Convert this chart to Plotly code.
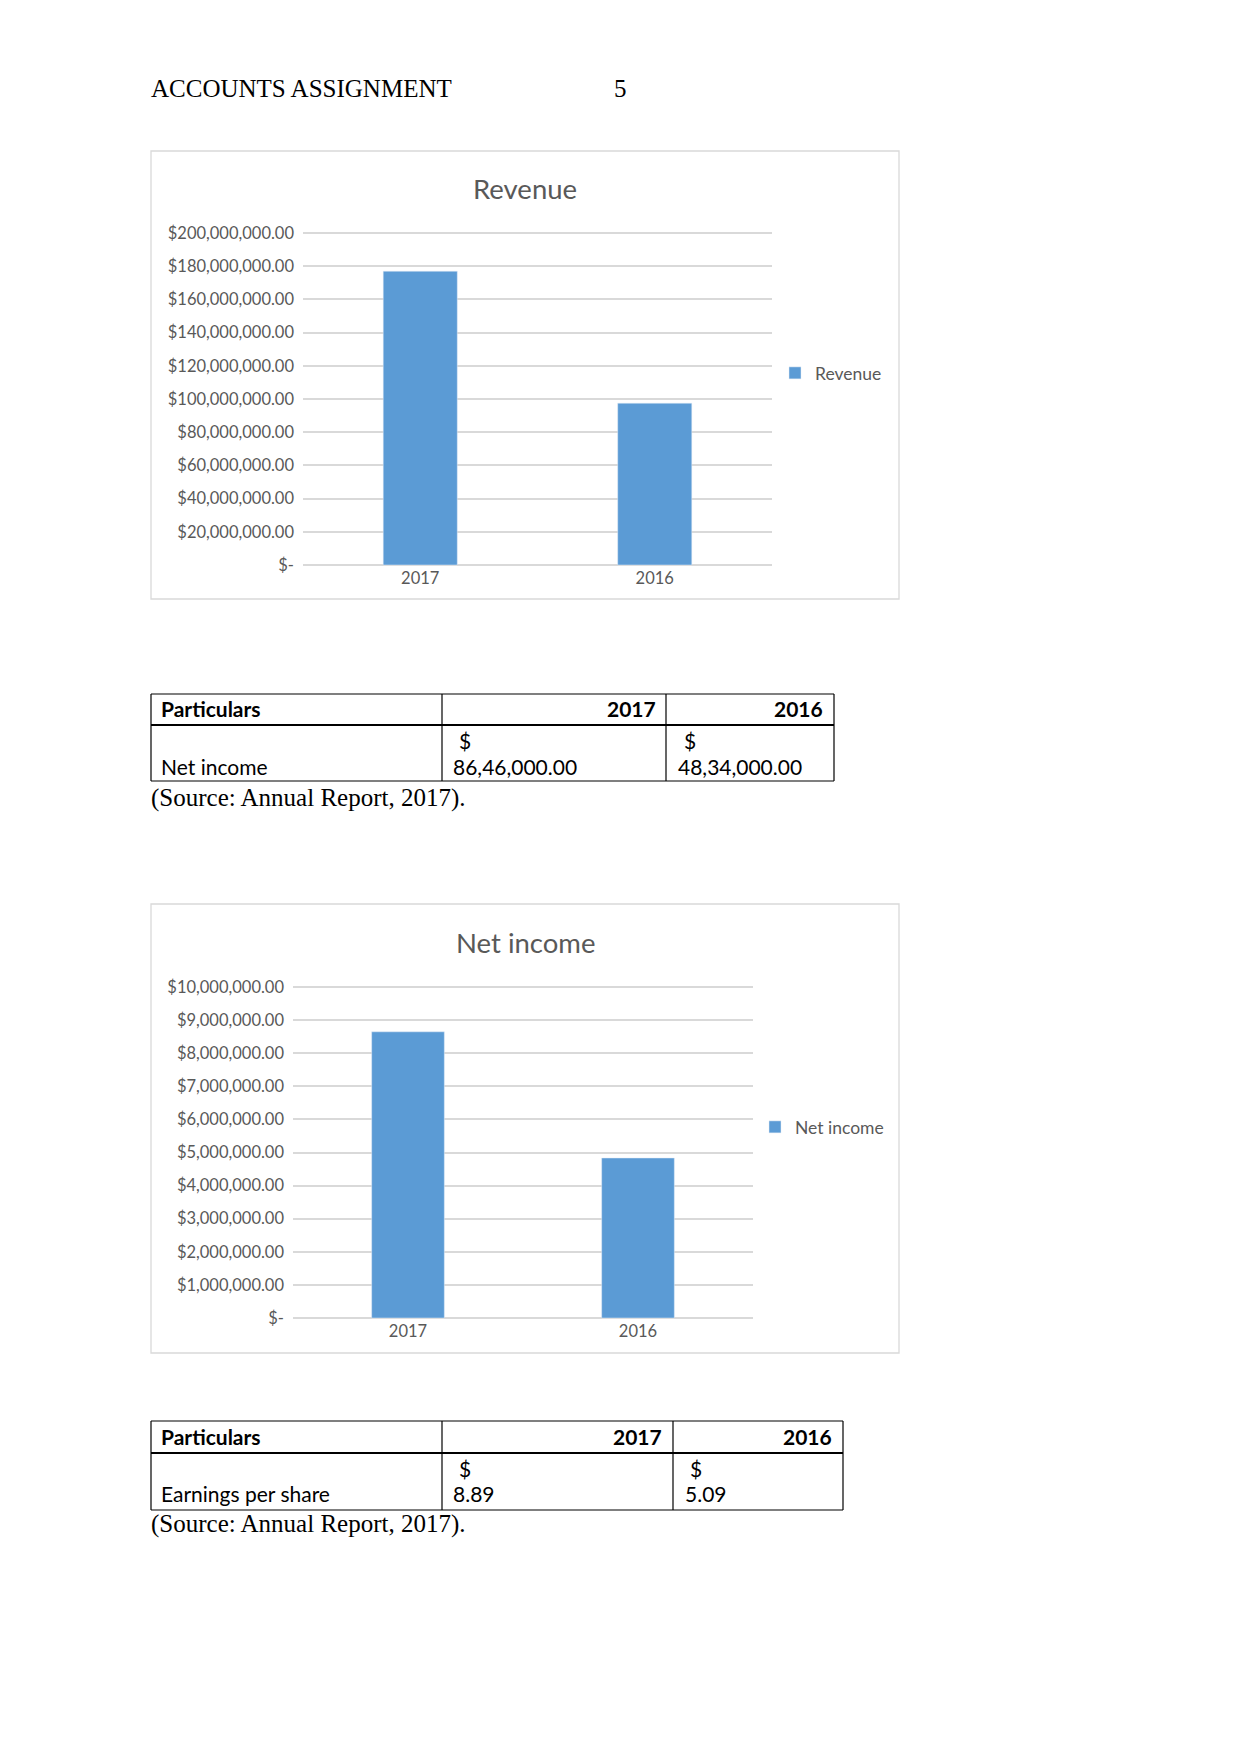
import plotly.graph_objects as go

# ---------------- data ----------------
years = ["2017", "2016"]
revenue = [177_000_000, 97_500_000]
net_income = [8_646_000, 4_834_000]

rev_tickvals = [0, 20e6, 40e6, 60e6, 80e6, 100e6, 120e6, 140e6, 160e6, 180e6, 200e6]
rev_ticktext = ["$-", "$20,000,000.00", "$40,000,000.00", "$60,000,000.00", "$80,000,000.00",
                "$100,000,000.00", "$120,000,000.00", "$140,000,000.00", "$160,000,000.00",
                "$180,000,000.00", "$200,000,000.00"]
ni_tickvals = [0, 1e6, 2e6, 3e6, 4e6, 5e6, 6e6, 7e6, 8e6, 9e6, 10e6]
ni_ticktext = ["$-", "$1,000,000.00", "$2,000,000.00", "$3,000,000.00", "$4,000,000.00",
               "$5,000,000.00", "$6,000,000.00", "$7,000,000.00", "$8,000,000.00",
               "$9,000,000.00", "$10,000,000.00"]

table_header = ["Particulars", "2017", "2016"]
table1_row = ["Net income", "86,46,000.00", "48,34,000.00"]
table2_row = ["Earnings per share", "8.89", "5.09"]
source_text = "(Source: Annual Report, 2017)."
page_header = "ACCOUNTS ASSIGNMENT"
page_number = "5"

# ---------------- styling ----------------
W, H = 1241, 1754
BAR = "#5b9bd5"
GRID = "#d9d9d9"
TXT = "#595959"
CH_FONT = "Lato"
SERIF = "Liberation Serif"


def px(x):
    return x / W


def py(y):
    return 1 - y / H


fig = go.Figure()
fig.add_trace(go.Bar(x=years, y=revenue, name="Revenue", marker_color=BAR,
                     xaxis="x", yaxis="y", legend="legend"))
fig.add_trace(go.Bar(x=years, y=net_income, name="Net income", marker_color=BAR,
                     xaxis="x2", yaxis="y2", legend="legend2"))

axis_common = dict(showline=False, zeroline=False, ticks="", automargin=False,
                   tickfont=dict(family=CH_FONT, size=16.5, color=TXT))

# pad ranges slightly so the edge gridlines (0 and max) are drawn
rev_pad = 1e6          # ~1.66 px
ni_pad = 0.05e6        # ~1.66 px
pad_px = 1.66

fig.update_layout(
    width=W, height=H,
    margin=dict(l=0, r=0, t=0, b=0, pad=0, autoexpand=False),
    paper_bgcolor="white", plot_bgcolor="white",
    bargap=0.684,
    showlegend=True,
    xaxis=dict(domain=[px(303), px(772)], anchor="y", showgrid=False, **axis_common),
    yaxis=dict(domain=[py(565 + pad_px), py(233 - pad_px)], anchor="x",
               range=[-rev_pad, 200e6 + rev_pad],
               tickvals=rev_tickvals, ticktext=rev_ticktext, showgrid=True,
               gridcolor=GRID, gridwidth=1.5, ticklabelstandoff=8, **axis_common),
    xaxis2=dict(domain=[px(293), px(753)], anchor="y2", showgrid=False, **axis_common),
    yaxis2=dict(domain=[py(1318 + pad_px), py(987 - pad_px)], anchor="x2",
                range=[-ni_pad, 10e6 + ni_pad],
                tickvals=ni_tickvals, ticktext=ni_ticktext, showgrid=True,
                gridcolor=GRID, gridwidth=1.5, ticklabelstandoff=8, **axis_common),
    legend=dict(x=px(775), y=py(373), xanchor="left", yanchor="middle",
                bgcolor="rgba(0,0,0,0)", font=dict(family=CH_FONT, size=17.5, color=TXT)),
    legend2=dict(x=px(755), y=py(1127), xanchor="left", yanchor="middle",
                 bgcolor="rgba(0,0,0,0)", font=dict(family=CH_FONT, size=17.5, color=TXT)),
)

shapes = []
annotations = []

# chart frames
for (x0, y0, x1, y1) in [(151, 151, 899, 599), (151, 904, 899, 1353)]:
    shapes.append(dict(type="rect", xref="paper", yref="paper",
                       x0=px(x0), x1=px(x1), y0=py(y0), y1=py(y1),
                       line=dict(color=GRID, width=1.3), fillcolor="rgba(0,0,0,0)", layer="below"))


def text(x, y, s, size, family, color="black", anchor="left", bold=False):
    if bold:
        s = "<b>" + s + "</b>"
    if anchor == "left":
        x -= 2.5
    elif anchor == "right":
        x += 2.5
    annotations.append(dict(x=px(x), y=py(y), xref="paper", yref="paper", text=s,
                            showarrow=False, xanchor=anchor, yanchor="middle",
                            font=dict(size=size, family=family, color=color)))


# chart titles
text(525, 189, "Revenue", 27.5, CH_FONT, TXT, "center")
text(525, 943, "Net income", 27.5, CH_FONT, TXT, "center")

# page header
text(151, 89, page_header, 25, SERIF)
text(614, 89, page_number, 25, SERIF)


def line(x0, y0, x1, y1, w=1.2):
    shapes.append(dict(type="line", xref="paper", yref="paper",
                       x0=px(x0), x1=px(x1), y0=py(y0), y1=py(y1),
                       line=dict(color="black", width=w)))


def draw_table(top, hline, bottom, left, c1, c2, right, hdr_r1, hdr_r2,
               dol1, dol2, val1, val2, row, hy, dy, vy, sy):
    line(left, top, right, top)
    line(left, bottom, right, bottom)
    line(left, hline, right, hline, 2)
    line(left, top, left, bottom)
    line(c1, top, c1, bottom)
    line(c2, top, c2, bottom)
    line(right, top, right, bottom)
    text(162, hy, table_header[0], 21, CH_FONT, bold=True)
    text(hdr_r1, hy, table_header[1], 21, CH_FONT, anchor="right", bold=True)
    text(hdr_r2, hy, table_header[2], 21, CH_FONT, anchor="right", bold=True)
    text(dol1, dy, "$", 21, CH_FONT)
    text(dol2, dy, "$", 21, CH_FONT)
    text(162, vy, row[0], 21, CH_FONT)
    text(val1, vy, row[1], 21, CH_FONT)
    text(val2, vy, row[2], 21, CH_FONT)
    text(151, sy, source_text, 25, SERIF)


draw_table(694, 725, 781, 151, 442, 666, 834, 655, 822,
           460, 684, 453, 678, table1_row, 708, 741, 766, 798)
draw_table(1421, 1453, 1510, 151, 442, 673, 843, 661, 831,
           460, 690, 453, 685, table2_row, 1436, 1468, 1493, 1524)

fig.update_layout(shapes=shapes, annotations=annotations)

post = ("document.documentElement.style.margin='0';"
        "document.body.style.margin='0';document.body.style.padding='0';"
        "document.body.style.overflow='hidden';"
        "var gd=document.getElementById('{plot_id}');"
        "gd.style.position='absolute';gd.style.left='0px';gd.style.top='0px';")

fig.write_html("out.html", post_script=post, config={"displayModeBar": False})
